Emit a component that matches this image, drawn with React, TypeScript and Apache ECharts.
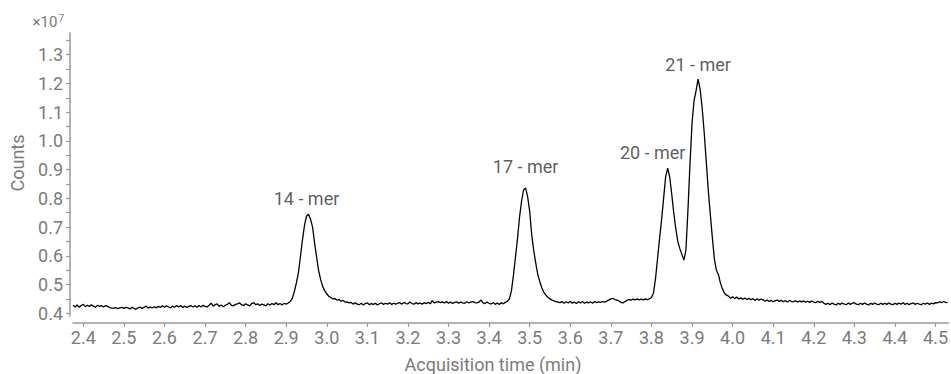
import React, { useEffect, useRef } from "react";
import * as echarts from "echarts";

// Sampling of the chromatogram (minutes)
const startTime = 2.375;
const timeStep = 0.005;

// Counts (×10^7), one row per 0.1 min (20 samples)
const counts: number[] = [
  // 2.375 - 2.470
  0.428, 0.422, 0.429, 0.421, 0.427, 0.431, 0.423, 0.428, 0.424, 0.430, 0.425, 0.421, 0.428, 0.424, 0.427, 0.422, 0.427, 0.424, 0.420, 0.418,
  // 2.475 - 2.570
  0.418, 0.420, 0.416, 0.419, 0.421, 0.417, 0.421, 0.419, 0.415, 0.421, 0.417, 0.414, 0.419, 0.422, 0.417, 0.421, 0.425, 0.418, 0.422, 0.419,
  // 2.575 - 2.670
  0.423, 0.419, 0.424, 0.420, 0.426, 0.421, 0.426, 0.422, 0.419, 0.425, 0.421, 0.427, 0.422, 0.427, 0.420, 0.425, 0.420, 0.424, 0.427, 0.422,
  // 2.675 - 2.770
  0.426, 0.421, 0.427, 0.422, 0.428, 0.424, 0.422, 0.428, 0.435, 0.425, 0.430, 0.433, 0.424, 0.429, 0.423, 0.428, 0.431, 0.437, 0.428, 0.426,
  // 2.775 - 2.870
  0.431, 0.433, 0.436, 0.430, 0.427, 0.433, 0.429, 0.426, 0.434, 0.437, 0.430, 0.433, 0.427, 0.432, 0.429, 0.426, 0.433, 0.429, 0.434, 0.430,
  // 2.875 - 2.970 (14-mer)
  0.437, 0.430, 0.434, 0.429, 0.435, 0.432, 0.436, 0.441, 0.452, 0.475, 0.505, 0.540, 0.595, 0.655, 0.705, 0.738, 0.745, 0.728, 0.700, 0.645,
  // 2.975 - 3.070
  0.595, 0.548, 0.517, 0.493, 0.478, 0.468, 0.459, 0.455, 0.450, 0.451, 0.446, 0.448, 0.442, 0.445, 0.439, 0.440, 0.436, 0.438, 0.432, 0.437,
  // 3.075 - 3.170
  0.432, 0.430, 0.435, 0.429, 0.434, 0.436, 0.430, 0.434, 0.431, 0.435, 0.429, 0.434, 0.436, 0.431, 0.435, 0.432, 0.437, 0.431, 0.435, 0.432,
  // 3.175 - 3.270
  0.435, 0.437, 0.432, 0.438, 0.434, 0.433, 0.439, 0.434, 0.432, 0.437, 0.433, 0.436, 0.432, 0.437, 0.434, 0.438, 0.433, 0.444, 0.436, 0.439,
  // 3.275 - 3.370
  0.441, 0.437, 0.440, 0.436, 0.441, 0.435, 0.439, 0.434, 0.438, 0.440, 0.435, 0.439, 0.436, 0.435, 0.440, 0.436, 0.439, 0.441, 0.437, 0.436,
  // 3.375 - 3.470 (17-mer rise)
  0.439, 0.446, 0.436, 0.434, 0.439, 0.435, 0.432, 0.438, 0.431, 0.436, 0.431, 0.437, 0.433, 0.438, 0.442, 0.450, 0.478, 0.533, 0.595, 0.660,
  // 3.475 - 3.570
  0.735, 0.790, 0.830, 0.836, 0.805, 0.755, 0.673, 0.618, 0.575, 0.535, 0.510, 0.488, 0.473, 0.463, 0.456, 0.450, 0.446, 0.443, 0.441, 0.439,
  // 3.575 - 3.670
  0.437, 0.441, 0.435, 0.440, 0.436, 0.442, 0.435, 0.439, 0.434, 0.440, 0.436, 0.441, 0.435, 0.439, 0.436, 0.440, 0.435, 0.441, 0.437, 0.440,
  // 3.675 - 3.770
  0.438, 0.441, 0.439, 0.443, 0.446, 0.450, 0.452, 0.448, 0.446, 0.443, 0.438, 0.436, 0.441, 0.445, 0.448, 0.446, 0.449, 0.447, 0.450, 0.447,
  // 3.775 - 3.870 (20-mer)
  0.449, 0.447, 0.450, 0.448, 0.450, 0.455, 0.470, 0.520, 0.590, 0.660, 0.725, 0.800, 0.875, 0.905, 0.875, 0.815, 0.750, 0.695, 0.650, 0.625,
  // 3.875 - 3.970 (21-mer)
  0.605, 0.585, 0.620, 0.760, 0.920, 1.060, 1.140, 1.175, 1.215, 1.180, 1.115, 1.030, 0.930, 0.830, 0.745, 0.665, 0.590, 0.550, 0.535, 0.505,
  // 3.975 - 4.070
  0.485, 0.470, 0.463, 0.460, 0.452, 0.458, 0.451, 0.457, 0.450, 0.454, 0.449, 0.453, 0.448, 0.452, 0.447, 0.451, 0.445, 0.450, 0.446, 0.449,
  // 4.075 - 4.170
  0.447, 0.442, 0.446, 0.441, 0.445, 0.440, 0.444, 0.446, 0.441, 0.445, 0.440, 0.444, 0.439, 0.445, 0.441, 0.440, 0.444, 0.439, 0.443, 0.440,
  // 4.175 - 4.270
  0.443, 0.439, 0.442, 0.438, 0.443, 0.439, 0.437, 0.442, 0.438, 0.441, 0.435, 0.431, 0.435, 0.430, 0.436, 0.432, 0.429, 0.435, 0.431, 0.436,
  // 4.275 - 4.370
  0.432, 0.430, 0.436, 0.431, 0.435, 0.437, 0.432, 0.430, 0.435, 0.431, 0.436, 0.432, 0.429, 0.435, 0.431, 0.436, 0.432, 0.430, 0.435, 0.431,
  // 4.375 - 4.470
  0.435, 0.431, 0.436, 0.432, 0.430, 0.435, 0.431, 0.436, 0.432, 0.437, 0.431, 0.435, 0.430, 0.434, 0.436, 0.431, 0.435, 0.432, 0.430, 0.435,
  // 4.475 - 4.530
  0.432, 0.436, 0.431, 0.435, 0.433, 0.437, 0.436, 0.440, 0.437, 0.441, 0.438, 0.437,
];

// Peak annotations
const peakNames = ["14 - mer", "17 - mer", "20 - mer", "21 - mer"];
const peakTimes = [2.955, 3.49, 3.84, 3.915];
const peakCounts = [0.745, 0.836, 0.905, 1.215];

// Axis ticks
const xTickValues = [2.4, 2.5, 2.6, 2.7, 2.8, 2.9, 3.0, 3.1, 3.2, 3.3, 3.4, 3.5, 3.6, 3.7, 3.8, 3.9, 4.0, 4.1, 4.2, 4.3, 4.4, 4.5];
const yLabelValues = [0.4, 0.5, 0.6, 0.7, 0.8, 0.9, 1.0, 1.1, 1.2, 1.3];
const yTickValues = [0.4, 0.45, 0.5, 0.55, 0.6, 0.65, 0.7, 0.75, 0.8, 0.85, 0.9, 0.95, 1.0, 1.05, 1.1, 1.15, 1.2, 1.25, 1.3, 1.35];

// label placement (pixels) relative to each apex
const peakLabelOffsets = [[-2, -16], [0, -22], [-15, -16], [0, -15]];

const FONT = "Roboto";
const AXIS_GRAY = "#9a9a9a";
const TEXT_GRAY = "#7b7b7b";

export default function App() {
  const ref = useRef<HTMLDivElement>(null);
  useEffect(() => {
    if (!ref.current) return;
    const chart = echarts.init(ref.current, undefined, { renderer: "svg" });
    const lineData = counts.map((c, i) => [startTime + i * timeStep, c]);
    const labelData = peakNames.map((name, i) => ({
      value: [peakTimes[i], peakCounts[i]],
      name,
      label: { offset: peakLabelOffsets[i] },
    }));
    chart.setOption({
      animation: false,
      grid: { left: 73, right: 0, top: 33, bottom: 58, containLabel: false },
      xAxis: {
        type: "value",
        min: 2.3747,
        max: 4.532,
        offset: 7,
        splitLine: { show: false },
        axisLine: { show: true, lineStyle: { color: AXIS_GRAY, width: 1.5 } },
        axisTick: { show: true, customValues: xTickValues, length: 4, lineStyle: { color: AXIS_GRAY, width: 1.2 } },
        axisLabel: {
          customValues: xTickValues,
          formatter: (v: number) => v.toFixed(1),
          color: TEXT_GRAY,
          fontFamily: FONT,
          fontSize: 18,
          margin: 5,
        },
      },
      yAxis: {
        type: "value",
        min: 0.3906,
        max: 1.3756,
        offset: 3,
        splitLine: { show: false },
        axisLine: { show: true, lineStyle: { color: AXIS_GRAY, width: 1.5 } },
        axisTick: { show: true, customValues: yTickValues, length: 4, lineStyle: { color: AXIS_GRAY, width: 1.2 } },
        axisLabel: {
          customValues: yLabelValues,
          formatter: (v: number) => v.toFixed(1),
          color: TEXT_GRAY,
          fontFamily: FONT,
          fontSize: 18,
          margin: 7,
        },
      },
      graphic: [
        {
          type: "text",
          x: 493,
          y: 364,
          style: {
            text: "Acquisition time (min)",
            fill: TEXT_GRAY,
            font: `18px ${FONT}`,
            align: "center",
            verticalAlign: "middle",
          },
        },
        {
          type: "text",
          x: 17,
          y: 163,
          rotation: Math.PI / 2,
          style: {
            text: "Counts",
            fill: TEXT_GRAY,
            font: `18px ${FONT}`,
            align: "center",
            verticalAlign: "middle",
          },
        },
        {
          type: "text",
          x: 64,
          y: 22,
          style: {
            text: "{a|×10}{b|7}",
            align: "right",
            verticalAlign: "middle",
            rich: {
              a: { fill: TEXT_GRAY, fontFamily: FONT, fontSize: 15 },
              b: { fill: TEXT_GRAY, fontFamily: FONT, fontSize: 10, padding: [0, 0, 8, 1] },
            },
          },
        },
      ],
      series: [
        {
          type: "line",
          data: lineData,
          showSymbol: false,
          symbol: "none",
          lineStyle: { color: "#000000", width: 1.3 },
          silent: true,
        },
        {
          type: "scatter",
          data: labelData,
          symbolSize: 0,
          silent: true,
          label: {
            show: true,
            position: [0, 0],
            align: "center",
            verticalAlign: "middle",
            formatter: (p: any) => p.name,
            color: "#333333",
            fontFamily: FONT,
            fontSize: 18,
          },
        },
      ],
    });
    return () => chart.dispose();
  }, []);
  return <div ref={ref} style={{ position: "absolute", left: 0, top: 0, width: 951, height: 374 }} />;
}
